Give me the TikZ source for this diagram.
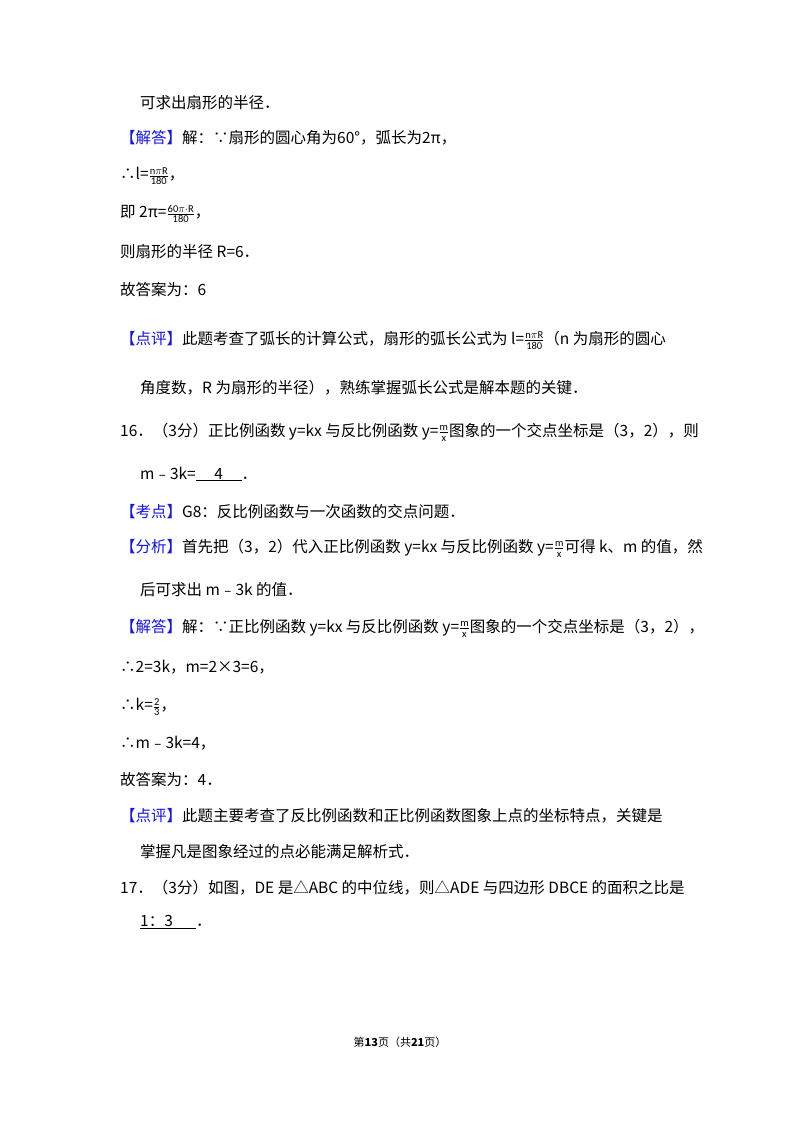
\documentclass[tikz,border=0pt]{standalone}
\usepackage{fontspec}
\setmainfont{Carlito}
\newfontfamily\cjk{Noto Sans CJK SC}
\definecolor{blu}{RGB}{20,20,230}
\newcommand\brk[1]{\textcolor{blu}{【#1】}}
\newcommand\ffr[2]{{\fontsize{15}{15}\selectfont$\frac{\mathrm{#1}}{\mathrm{#2}}$}}
\begin{document}
\begin{tikzpicture}[x=1pt,y=-1pt,
  ln/.style={anchor=west,inner sep=0pt,font=\cjk\fontsize{15.5}{19}\selectfont}]
\useasboundingbox[fill=white] (0,0) rectangle (800,1132);
\node[ln] (a1) at (140,103) {可求出扇形的半径．};
\node[ln] (a2) at (120,138) {\brk{解答}解：∵扇形的圆心角为60°，弧长为2π，};
\node[ln] (a3) at (120,176) {∴l=\ffr{n\pi R}{180}，};
\node[ln] (a4) at (120,214) {即 2π=\ffr{60\pi\cdot R}{180}，};
\node[ln] (a5) at (120,252) {则扇形的半径 R=6．};
\node[ln] (a6) at (120,290) {故答案为：6};
\node[ln] (a7) at (120,340) {\brk{点评}此题考查了弧长的计算公式，扇形的弧长公式为 l=\ffr{n\pi R}{180}（n 为扇形的圆心};
\node[ln] (a8) at (140,388) {角度数，R 为扇形的半径），熟练掌握弧长公式是解本题的关键．};
\node[ln] (b1) at (120,432) {16．（3分）正比例函数 y=kx 与反比例函数 y=\ffr{m}{x}图象的一个交点坐标是（3，2），则};
\node[ln] (b2) at (140,474) {m﹣3k=\underline{\hspace{1.2em}4\hspace{1.2em}}．};
\node[ln] (b3) at (120,512) {\brk{考点}G8：反比例函数与一次函数的交点问题．};
\node[ln] (b4) at (120,548) {\brk{分析}首先把（3，2）代入正比例函数 y=kx 与反比例函数 y=\ffr{m}{x}可得 k、m 的值，然};
\node[ln] (b5) at (140,590) {后可求出 m﹣3k 的值．};
\node[ln] (b6) at (120,628) {\brk{解答}解：∵正比例函数 y=kx 与反比例函数 y=\ffr{m}{x}图象的一个交点坐标是（3，2），};
\node[ln] (b7) at (120,667) {∴2=3k，m=2×3=6，};
\node[ln] (b8) at (120,707) {∴k=\ffr{2}{3}，};
\node[ln] (b9) at (120,743) {∴m﹣3k=4，};
\node[ln] (b10) at (120,780) {故答案为：4．};
\node[ln] (b11) at (120,816) {\brk{点评}此题主要考查了反比例函数和正比例函数图象上点的坐标特点，关键是};
\node[ln] (b12) at (140,852) {掌握凡是图象经过的点必能满足解析式．};
\node[ln] (c1) at (120,888) {17．（3分）如图，DE 是△ABC 的中位线，则△ADE 与四边形 DBCE 的面积之比是};
\node[ln] (c2) at (140,922) {\underline{1：3\hspace{1.5em}}．};
\node[inner sep=0pt,font=\cjk\fontsize{11}{13}\selectfont] (f) at (400,1042) {第\textbf{13}页（共\textbf{21}页）};
\end{tikzpicture}
\end{document}
